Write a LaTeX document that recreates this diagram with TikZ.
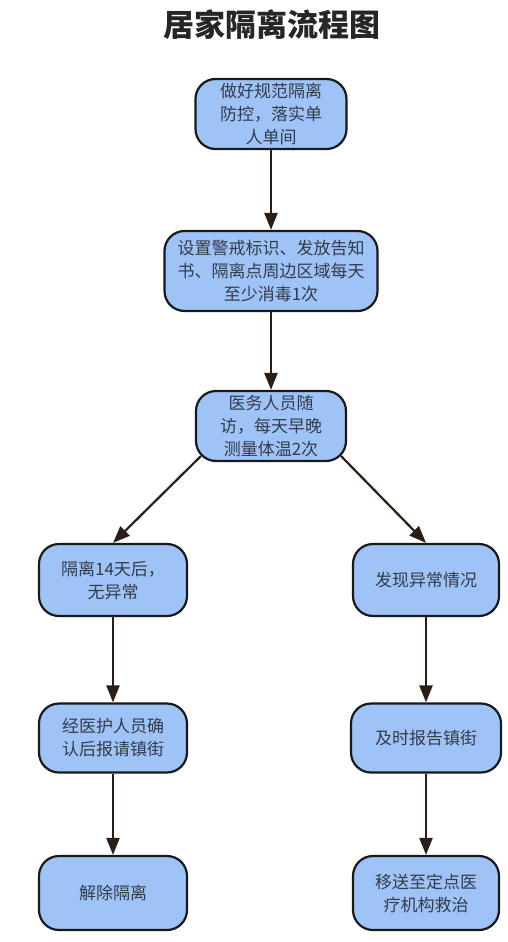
\documentclass[tikz,border=0pt]{standalone}
\usepackage{fontspec}
\setmainfont{Noto Sans CJK SC}
\usetikzlibrary{arrows.meta}
\definecolor{boxblue}{HTML}{9EC3F7}
\definecolor{edgebrown}{HTML}{2B1E16}
\definecolor{textgray}{HTML}{353B48}
\begin{document}
\begin{tikzpicture}[x=1pt,y=-1pt,
   proc/.style={draw=black!90,line width=2.2pt,fill=boxblue,rounded corners=20pt,
      align=center,text=textgray,inner sep=0pt,font=\fontsize{17}{23}\selectfont},
   flow/.style={draw=edgebrown,line width=2.2pt,-{Triangle[length=17pt,width=13pt]}}]
\useasboundingbox (0,0) rectangle (508,942);
\node [font=\fontsize{31}{31}\selectfont\bfseries,text=black!85] (title) at (272,25)
   {居家隔离流程图};
\node [proc,minimum width=151pt,minimum height=70pt] (n1) at (271,114)
   {做好规范隔离\\防控，落实单\\人单间};
\node [proc,minimum width=213pt,minimum height=80pt] (n2) at (271,271)
   {设置警戒标识、发放告知\\书、隔离点周边区域每天\\至少消毒1次};
\node [proc,minimum width=150pt,minimum height=70pt] (n3) at (271,426)
   {医务人员随\\访，每天早晚\\测量体温2次};
\node [proc,minimum width=148pt,minimum height=72pt] (n4) at (113,580)
   {隔离14天后，\\无异常};
\node [proc,minimum width=146pt,minimum height=72pt] (n5) at (426,580)
   {发现异常情况};
\node [proc,minimum width=148pt,minimum height=69pt] (n6) at (113,738)
   {经医护人员确\\认后报请镇街};
\node [proc,minimum width=150pt,minimum height=69pt] (n7) at (426,738)
   {及时报告镇街};
\node [proc,minimum width=148pt,minimum height=74pt] (n8) at (113,893)
   {解除隔离};
\node [proc,minimum width=146pt,minimum height=74pt] (n9) at (426,893)
   {移送至定点医\\疗机构救治};
\draw [flow] (n1.south) -- (n2.north);
\draw [flow] (n2.south) -- (n3.north);
\draw [flow] ([shift={(6pt,6pt)}]n3.south west) -- (n4.north);
\draw [flow] ([shift={(-6pt,6pt)}]n3.south east) -- (n5.north);
\draw [flow] (n4.south) -- (n6.north);
\draw [flow] (n5.south) -- (n7.north);
\draw [flow] (n6.south) -- (n8.north);
\draw [flow] (n7.south) -- (n9.north);
\end{tikzpicture}
\end{document}
